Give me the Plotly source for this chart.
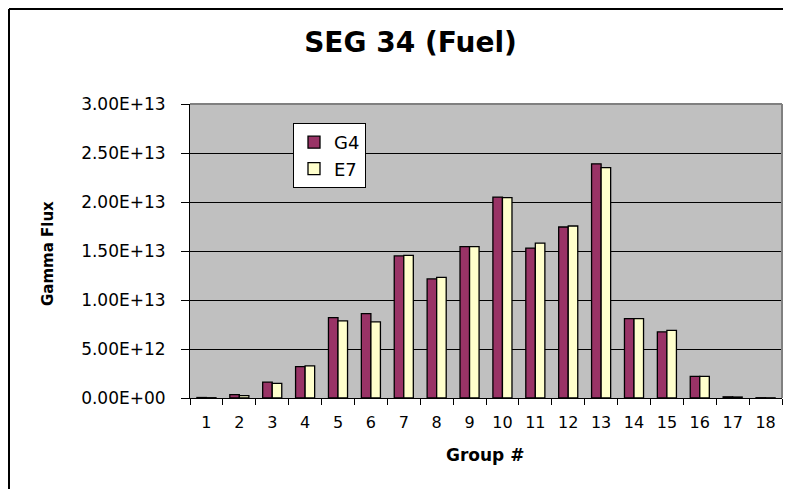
import plotly.graph_objects as go

groups = [str(i) for i in range(1, 19)]
g4_values = [0.05e12, 0.34e12, 1.62e12, 3.20e12, 8.20e12, 8.60e12, 14.50e12, 12.15e12, 15.45e12,
             20.50e12, 15.30e12, 17.45e12, 23.90e12, 8.10e12, 6.75e12, 2.20e12, 0.12e12, 0.03e12]
e7_values = [0.03e12, 0.24e12, 1.50e12, 3.27e12, 7.87e12, 7.77e12, 14.55e12, 12.30e12, 15.45e12,
             20.45e12, 15.80e12, 17.55e12, 23.50e12, 8.10e12, 6.90e12, 2.20e12, 0.10e12, 0.02e12]
y_tick_values = [0, 5e12, 1e13, 1.5e13, 2e13, 2.5e13, 3e13]
y_tick_labels = ["0.00E+00", "5.00E+12", "1.00E+13", "1.50E+13", "2.00E+13", "2.50E+13", "3.00E+13"]

W, H = 792, 489
OFF = 8  # page body margin offset
L, T = 190 - OFF, 104 - OFF
pw, ph = 592, 294
R, B = W - L - pw, H - T - ph

def px(x):
    return (x - OFF - L) / pw

def py(y):
    return (T + ph - (y - OFF)) / ph

fig = go.Figure()
fig.add_trace(go.Bar(x=groups, y=g4_values, name="G4", legendgroup="a",
                     marker=dict(color="#993366", line=dict(color="black", width=1.3))))
fig.add_trace(go.Bar(x=groups, y=e7_values, name="E7", legendgroup="b",
                     marker=dict(color="#FFFFCC", line=dict(color="black", width=1.3))))

fig.update_layout(
    width=W, height=H,
    margin=dict(l=L, r=R, t=T, b=B),
    paper_bgcolor="white",
    plot_bgcolor="#C0C0C0",
    barmode="group",
    bargap=0.42,
    bargroupgap=0,
    font=dict(family="DejaVu Sans", color="black"),
    title=dict(text="<b>SEG 34 (Fuel)</b>", x=(410.5 - OFF) / W, y=1 - (42 - OFF) / H,
               xanchor="center", yanchor="middle", xref="container", yref="container",
               font=dict(family="DejaVu Sans", size=28, color="black")),
    legend=dict(x=px(293), y=py(123), xanchor="left", yanchor="top",
                bgcolor="white", bordercolor="black", borderwidth=1,
                font=dict(family="DejaVu Sans", size=18, color="black"),
                tracegroupgap=8, traceorder="normal"),
    showlegend=True,
)

fig.update_xaxes(
    type="category", tickson="boundaries",
    showline=True, linecolor="black", linewidth=1,
    ticks="outside", ticklen=6, tickcolor="black", tickwidth=1,
    tickfont=dict(family="DejaVu Sans", size=16, color="black"),
    ticklabelstandoff=10,
    showgrid=False, zeroline=False,
)
fig.update_yaxes(
    range=[0, 3e13], tickvals=y_tick_values, ticktext=y_tick_labels,
    showline=True, linecolor="black", linewidth=1,
    ticks="outside", ticklen=8, tickcolor="black", tickwidth=1,
    tickfont=dict(family="DejaVu Sans", size=17, color="black"),
    ticklabelstandoff=12,
    showgrid=True, gridcolor="black", gridwidth=1,
    zeroline=False,
)

fig.add_annotation(text="<b>Gamma Flux</b>", textangle=-90, x=px(48), y=py(254),
                   xref="paper", yref="paper", showarrow=False,
                   xanchor="center", yanchor="middle",
                   font=dict(family="DejaVu Sans", size=15, color="black"))
fig.add_annotation(text="<b>Group #</b>", x=px(484.5), y=py(455),
                   xref="paper", yref="paper", showarrow=False,
                   xanchor="center", yanchor="middle",
                   font=dict(family="DejaVu Sans", size=17, color="black"))

# plot area top/right border (gray)
fig.add_shape(type="line", xref="paper", yref="paper", x0=0, x1=1, y0=1, y1=1,
              line=dict(color="#808080", width=2))
fig.add_shape(type="line", xref="paper", yref="paper", x0=1, x1=1, y0=0, y1=1,
              line=dict(color="#808080", width=2))
# chart frame (top and left)
fig.add_shape(type="line", xref="paper", yref="paper", x0=px(9), x1=px(783), y0=py(9), y1=py(9),
              line=dict(color="black", width=2))
fig.add_shape(type="line", xref="paper", yref="paper", x0=px(9), x1=px(9), y0=py(9), y1=py(489),
              line=dict(color="black", width=2))

fig.write_html("out.html")
